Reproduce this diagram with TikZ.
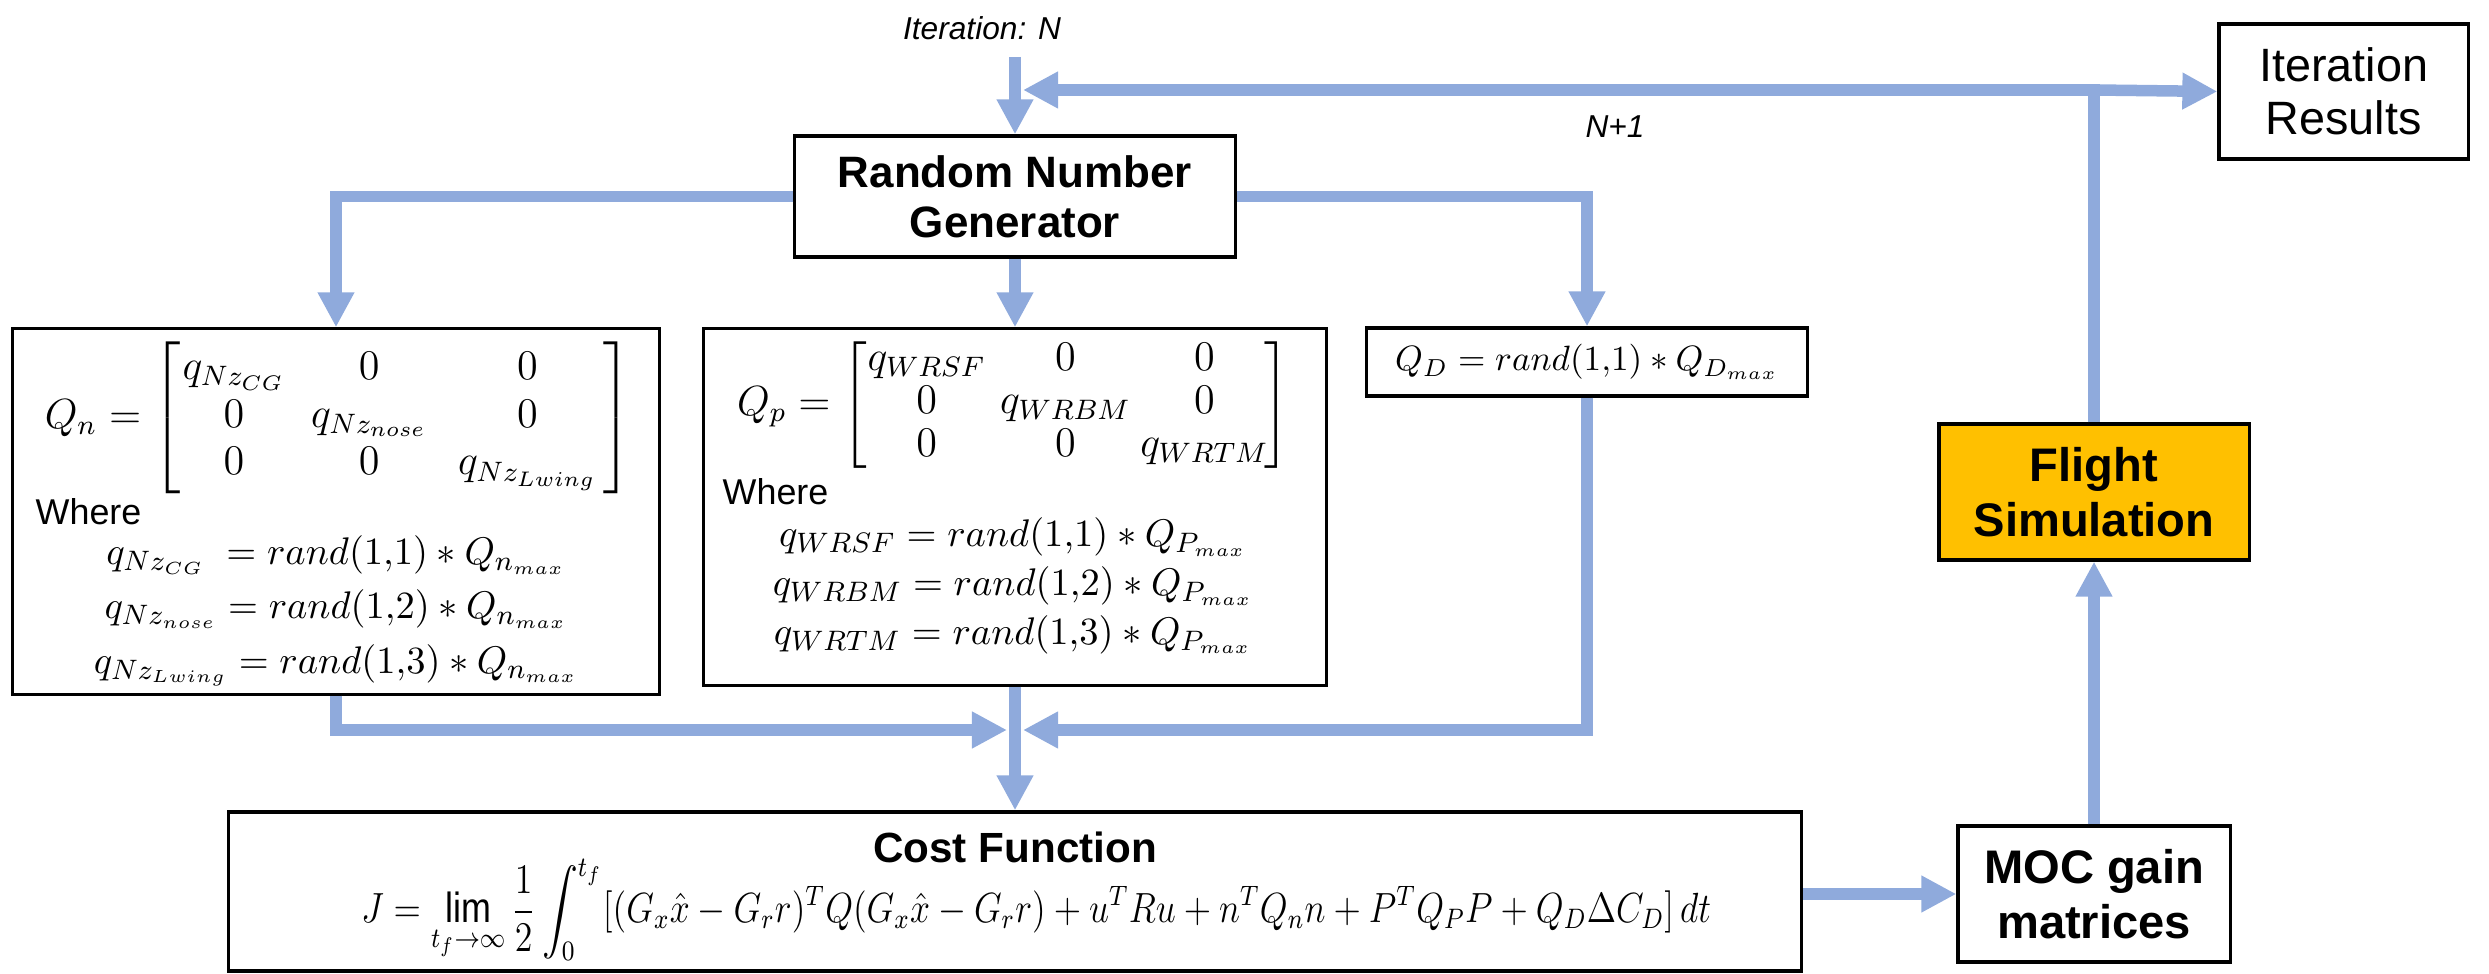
\documentclass[tikz,border=0pt]{standalone}
\usepackage{amsmath}
\usepackage{graphicx}
\usepackage{fontspec}
\setmainfont{Liberation Sans}
\usetikzlibrary{arrows.meta}
\definecolor{flowblue}{RGB}{143,170,220}
\definecolor{simorange}{RGB}{255,192,0}
\newcommand{\cw}[2]{\makebox[#1]{$#2$}}
\newcommand{\tightlines}{\lineskiplimit=-20pt\relax}
\begin{document}
\begin{tikzpicture}[x=0.01cm,y=-0.01cm,
  flow/.style={draw=flowblue,line width=0.115cm},
  flowarrow/.style={flow,-{Triangle[length=0.35cm,width=0.345cm]}},
  box/.style={draw=black,line width=0.9pt,fill=white,inner sep=0pt},
  ttl/.style={font=\fontsize{13.4}{15.6}\selectfont\bfseries,align=center},
  ttlb/.style={font=\fontsize{12.5}{14.2}\selectfont\bfseries,align=center},
  lbl/.style={font=\fontsize{9}{11}\selectfont\itshape},
  mth/.style={font=\fontsize{11.5}{13.6}\selectfont,inner sep=0pt},
  eqs/.style={align=center,inner sep=0pt},
  wh/.style={font=\fontsize{10.2}{12}\selectfont,anchor=west,inner sep=0pt}
]
\useasboundingbox (0,0) rectangle (2489,974);

% boxes
\node[box,minimum width=2.49cm,minimum height=1.35cm,align=center,
      font=\fontsize{13.3}{15}\selectfont] (itres) at (2343.5,91.5) {Iteration\\Results};
\node[box,ttlb,minimum width=4.4cm,minimum height=1.21cm] (rng) at (1015,196.5) {Random Number\\Generator};
\node[box,minimum width=6.46cm,minimum height=3.65cm] (qn) at (336,511.5) {};
\node[box,minimum width=6.22cm,minimum height=3.56cm] (qp) at (1015,507) {};
\node[box,mth,font=\fontsize{10.4}{12}\selectfont,minimum width=4.4cm,minimum height=0.68cm] (qd) at (1587,362)
  {$Q_D = rand(1{,}1) \ast Q_{D_{max}}$};
\node[box,minimum width=15.72cm,minimum height=1.59cm] (cost) at (1015,891.5) {};
\node[box,ttl,minimum width=2.72cm,minimum height=1.36cm] (moc) at (2094,894) {MOC gain\\matrices};
\node[box,ttl,fill=simorange,minimum width=3.1cm,minimum height=1.36cm] (flight) at (2094,492) {Flight\\Simulation};

% labels
\node[lbl] (itn) at (982,28) {Iteration: N};
\node[lbl] (np1) at (1615,127) {N+1};

% Qn content
\node[mth] (qnmat) at (338,418) {$Q_n = \left[\begin{array}{@{}c@{}c@{}c@{}}
  \cw{30pt}{q_{Nz_{CG}}} & \cw{47pt}{0} & \cw{43pt}{0}\\
  \cw{30pt}{0} & \cw{47pt}{q_{Nz_{nose}}} & \cw{43pt}{0}\\
  \cw{30pt}{0} & \cw{47pt}{0} & \cw{43pt}{q_{Nz_{Lwing}}}
  \end{array}\right]$};
\node[wh] (qnwhere) at (35,512) {Where};
\node[mth,eqs,font=\fontsize{11}{15.4}\selectfont\tightlines] (qneqs) at (336,611)
  {$q_{Nz_{CG}}\; = rand(1{,}1) \ast Q_{n_{max}}$\\
   $q_{Nz_{nose}} = rand(1{,}2) \ast Q_{n_{max}}$\\
   $q_{Nz_{Lwing}} = rand(1{,}3) \ast Q_{n_{max}}$};

% Qp content
\node[mth] (qpmat) at (1013,405) {\renewcommand{\arraystretch}{0.9}$Q_p = \left[\begin{array}{@{}c@{}c@{}c@{}}
  \cw{34pt}{q_{WRSF}} & \cw{45pt}{0} & \cw{34pt}{0}\\
  \cw{34pt}{0} & \cw{45pt}{q_{WRBM}} & \cw{34pt}{0}\\
  \cw{34pt}{0} & \cw{45pt}{0} & \cw{34pt}{q_{WRTM}}
  \end{array}\right]$};
\node[wh] (qpwhere) at (722,492) {Where};
\node[mth,eqs,font=\fontsize{10.8}{13.9}\selectfont\tightlines] (qpeqs) at (1013,586)
  {$q_{WRSF} = rand(1{,}1) \ast Q_{P_{max}}$\\
   $q_{WRBM} = rand(1{,}2) \ast Q_{P_{max}}$\\
   $q_{WRTM} = rand(1{,}3) \ast Q_{P_{max}}$};

% Cost content
\node[font=\fontsize{12}{14}\selectfont\bfseries] (costttl) at (1015,847) {Cost Function};
\node[mth,font=\fontsize{12}{14}\selectfont] (costeq) at (1036,910)
  {\scalebox{0.85}[1]{$\displaystyle J=\lim_{t_f\to\infty}\frac{1}{2}\int_0^{t_f}[(G_x\hat{x}-G_r r)^T Q(G_x\hat{x}-G_r r)+u^T R u+n^T Q_n n+P^T Q_P P+Q_D\Delta C_D]\,dt$}};

% coordinates
\coordinate (itstart) at (1015,57);
\coordinate (fbcorner) at (2094,90);
\coordinate (fbtip) at (1023,90);
\coordinate (mergeL) at (336,730);
\coordinate (mergeR) at (1587,730);
\coordinate (tipL) at (1007,730);
\coordinate (tipR) at (1023,730);

% connectors
\draw[flowarrow] (itstart) -- (rng.north);
\draw[flowarrow] (flight.north) -- (fbcorner) -- (fbtip);
\draw[flowarrow] (fbcorner) -- (itres.west);
\draw[flowarrow] (rng.west) -| (qn.north);
\draw[flowarrow] (rng.south) -- (qp.north);
\draw[flowarrow] (rng.east) -| (qd.north);
\draw[flowarrow] (qn.south) -- (mergeL) -- (tipL);
\draw[flowarrow] (qd.south) -- (mergeR) -- (tipR);
\draw[flowarrow] (qp.south) -- (cost.north);
\draw[flowarrow] (cost.east |- moc.west) -- (moc.west);
\draw[flowarrow] (moc.north) -- (flight.south);
\end{tikzpicture}
\end{document}
